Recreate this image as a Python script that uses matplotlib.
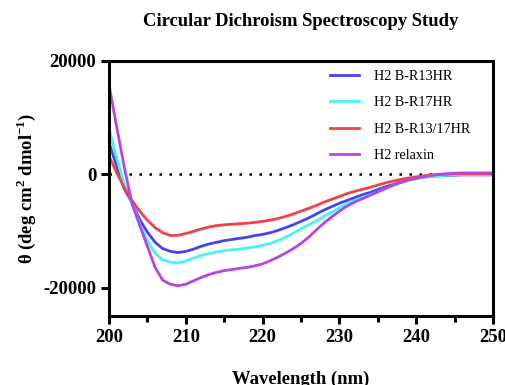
import matplotlib.pyplot as plt
import numpy as np

plt.rcParams["font.family"] = ["Liberation Serif", "DejaVu Serif"]
plt.rcParams["mathtext.fontset"] = "custom"
plt.rcParams["mathtext.rm"] = "Liberation Serif"
plt.rcParams["mathtext.bf"] = "Liberation Serif:bold"
plt.rcParams["axes.unicode_minus"] = False

wavelength = list(range(200, 251))

r13 = [5600, 1400, -2600, -5000, -8000, -10200, -12000, -13100, -13600, -13800,
       -13600, -13200, -12700, -12300, -12000, -11700, -11500, -11300, -11100, -10800,
       -10600, -10300, -9900, -9400, -8900, -8300, -7700, -7000, -6300, -5700,
       -5100, -4600, -4100, -3600, -3200, -2700, -2200, -1800, -1400, -1000,
       -700, -500, -350, -250, -200, -150, -100, -100, -100, -100, -100]

r17 = [8000, 2900, -1800, -5000, -8800, -11700, -13900, -15100, -15500, -15600,
       -15300, -14800, -14300, -14000, -13700, -13500, -13300, -13200, -13000, -12800,
       -12500, -12200, -11700, -11100, -10400, -9600, -8900, -8200, -7400, -6700,
       -5900, -5200, -4600, -4100, -3600, -3100, -2500, -2000, -1500, -1100,
       -800, -550, -350, -250, -150, -100, -50, -50, -50, -50, -50]

r13_17 = [3200, 300, -2400, -4600, -6500, -8100, -9400, -10300, -10800, -10750,
          -10450, -10050, -9650, -9300, -9050, -8900, -8800, -8720, -8620, -8480,
          -8300, -8080, -7800, -7420, -7000, -6500, -6000, -5500, -4900, -4400,
          -3900, -3400, -3000, -2650, -2300, -1900, -1500, -1200, -900, -650,
          -450, -250, -100, 0, 50, 100, 100, 100, 100, 100, 100]

relaxin = [15800, 8400, 1200, -5200, -9000, -12700, -16400, -18700, -19400, -19650,
           -19400, -18800, -18200, -17700, -17300, -17000, -16800, -16600, -16400, -16150,
           -15800, -15250, -14600, -13900, -13100, -12200, -11100, -9800, -8600, -7500,
           -6500, -5600, -4900, -4300, -3700, -3100, -2500, -1900, -1400, -1000,
           -700, -400, -200, 0, 100, 200, 250, 250, 250, 250, 250]

fig = plt.figure(figsize=(5.06, 3.85), dpi=100)
ax = fig.add_axes([0.2154, 0.1792, 0.7589, 0.6624])

ax.axhline(0, color="black", linestyle=(0, (1, 3)), linewidth=1.8, zorder=1)

ax.plot(wavelength, r13, color="#4343F5", lw=2, label="H2 B-R13HR")
ax.plot(wavelength, r17, color="#45F5F2", lw=2, label="H2 B-R17HR")
ax.plot(wavelength, r13_17, color="#F54045", lw=2, label="H2 B-R13/17HR")
ax.plot(wavelength, relaxin, color="#B545E6", lw=2, label="H2 relaxin")

ax.set_xlim(200, 250)
ax.set_ylim(-25000, 20000)
ax.set_xticks(range(200, 251, 10))
ax.set_xticks(range(205, 250, 10), minor=True)
ax.set_yticks([-20000, 0, 20000])

for s in ax.spines.values():
    s.set_linewidth(2.2)
ax.tick_params(which="major", length=6, width=2.2, labelsize=13.5, pad=3)
ax.tick_params(which="minor", length=4, width=2.2)
for lab in ax.get_xticklabels() + ax.get_yticklabels():
    lab.set_fontweight("bold")

ax.set_title("Circular Dichroism Spectroscopy Study", fontsize=13.4,
             fontweight="bold", pad=25)
ax.set_xlabel("Wavelength (nm)", fontsize=13.4, fontweight="bold", labelpad=18)
ax.set_ylabel(r"θ (deg cm$^{\mathbf{2}}$ dmol$^{\mathbf{-1}}$)", fontsize=13.4,
              fontweight="bold", labelpad=4)

ax.legend(loc="upper right", frameon=False, fontsize=10.2, handlelength=2.0,
          handletextpad=1.1, labelspacing=0.95, borderaxespad=0.5,
          bbox_to_anchor=(0.975, 1.015))

fig.savefig("out.png", dpi=100)
